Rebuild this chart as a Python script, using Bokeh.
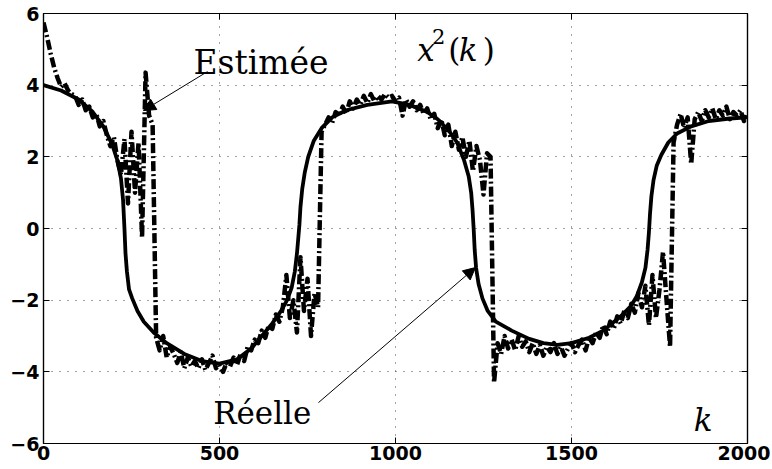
from bokeh.plotting import figure
from bokeh.models import Label, Arrow, NormalHead, LinearAxis, FixedTicker, Range1d, CustomJSTickFormatter, ColumnDataSource
from bokeh.embed import file_html
from bokeh.resources import INLINE

# ---- data ----
real_k = [0, 50, 100, 140, 170, 195, 210, 220, 226, 230, 233, 237, 243, 252, 267, 285, 313, 350, 400,
          450, 500, 550, 590, 620, 650, 675, 692, 705, 714, 720, 724, 727, 730, 735, 742, 752, 768,
          790, 820, 860, 920, 990, 1040, 1090, 1120, 1150, 1175, 1195, 1208, 1215, 1219, 1222, 1225,
          1229, 1236, 1247, 1262, 1285, 1330, 1380, 1420, 1460, 1500, 1550, 1590, 1640, 1670, 1685,
          1700, 1710, 1716, 1720, 1723, 1727, 1733, 1742, 1755, 1775, 1800, 1840, 1890, 1950, 2000]
real_x2 = [4.0, 3.85, 3.6, 3.25, 2.85, 2.35, 1.9, 1.4, 0.8, 0.0, -0.7, -1.2, -1.7, -1.95, -2.3, -2.6,
           -2.9, -3.2, -3.5, -3.7, -3.77, -3.65, -3.35, -3.0, -2.65, -2.3, -2.0, -1.65, -1.2, -0.7,
           -0.25, 0.1, 0.6, 1.1, 1.55, 2.0, 2.45, 2.8, 3.1, 3.3, 3.45, 3.55, 3.45, 3.25, 3.05, 2.75,
           2.4, 1.9, 1.45, 1.0, 0.5, 0.0, -0.6, -1.1, -1.55, -1.95, -2.3, -2.6, -2.85, -3.08, -3.2,
           -3.25, -3.2, -3.05, -2.85, -2.45, -2.15, -1.9, -1.5, -1.1, -0.6, -0.1, 0.4, 0.9, 1.35,
           1.75, 2.05, 2.4, 2.65, 2.85, 3.0, 3.07, 3.1]

est_k = list(range(0, 2001, 10))
est_x2 = [5.75, 5.35, 4.9, 4.5, 4.2, 3.95, 4.05, 3.85, 3.75, 3.7,
          3.45, 3.6, 3.3, 3.4, 3.1, 3.2, 2.85, 3.0, 2.6, 2.3,
          2.55, 1.9, 1.5, 2.5, 0.7, 2.7, 1.0, 2.4, -0.25, 4.35,
          3.15, 2.9, -3.05, -3.4, -3.0, -3.6, -3.3, -3.5, -3.75, -3.45,
          -3.9, -3.6, -3.85, -3.7, -3.9, -3.65, -3.95, -3.75, -3.55, -3.9,
          -3.8, -4.0, -3.75, -3.85, -3.6, -3.8, -3.5, -3.7, -3.3, -3.4,
          -3.1, -3.2, -2.85, -3.05, -2.7, -2.8, -2.4, -2.6, -2.2, -1.3,
          -2.5, -2.0, -2.9, -0.8, -2.3, -1.4, -3.0, -1.8, -2.2, 2.7,
          2.9, 3.1, 2.95, 3.25, 3.15, 3.4, 3.2, 3.55, 3.35, 3.6,
          3.45, 3.7, 3.5, 3.75, 3.55, 3.7, 3.6, 3.75, 3.65, 3.7,
          3.55, 3.65, 3.15, 3.6, 3.4, 3.55, 3.3, 3.45, 3.2, 3.35,
          3.05, 3.2, 2.8, 3.05, 2.6, 2.9, 2.3, 2.7, 2.2, 2.55,
          2.0, 2.45, 1.6, 2.3, 1.9, 0.95, 2.1, 2.0, -4.3, -3.2,
          -3.5, -3.0, -3.35, -3.1, -3.4, -3.0, -3.3, -3.15, -3.45, -3.2,
          -3.5, -3.25, -3.55, -3.3, -3.45, -3.2, -3.5, -3.3, -3.55, -3.35,
          -3.2, -3.45, -3.25, -3.1, -3.4, -3.05, -3.2, -2.9, -3.05, -2.7,
          -2.95, -2.6, -2.8, -2.45, -2.65, -2.3, -2.5, -2.1, -2.35, -1.8,
          -2.2, -1.6, -2.7, -1.3, -2.5, -1.7, -0.65, -2.0, -3.3, 2.4,
          2.9, 3.2, 2.8, 3.1, 1.8, 3.05, 3.25, 3.0, 3.3, 3.1,
          3.35, 3.05, 3.3, 3.15, 3.4, 3.05, 3.25, 3.15, 3.3, 3.0,
          3.2]

x_ticks = [0, 500, 1000, 1500, 2000]
y_ticks = [-6, -4, -2, 0, 2, 4, 6]

label_est = "Estimée"
label_real = "Réelle"
label_k = "k"

# ---- figure ----
p = figure(width=770, height=467, x_range=Range1d(0, 2000), y_range=Range1d(-6, 6),
           output_backend="svg", toolbar_location=None,
           min_border_left=43, min_border_right=23, min_border_top=13, min_border_bottom=24)
p.background_fill_color = "white"
p.border_fill_color = "white"
p.outline_line_color = "black"
p.outline_line_width = 1.2

tick_font = "DejaVu Sans"
for ax in (p.xaxis[0], p.yaxis[0]):
    ax.major_label_text_font = tick_font
    ax.major_label_text_font_style = "bold"
    ax.major_label_text_font_size = "19px"
    ax.major_label_text_color = "black"
    ax.major_tick_in = 6
    ax.major_tick_out = 0
    ax.minor_tick_in = 0
    ax.minor_tick_out = 0
    ax.axis_line_color = "black"
    ax.axis_line_width = 1.2
    ax.major_tick_line_color = "black"
p.xaxis.major_label_standoff = 2
p.yaxis.major_label_standoff = 4
p.xaxis.ticker = FixedTicker(ticks=x_ticks)
p.yaxis.ticker = FixedTicker(ticks=y_ticks)

for loc, ticks in (("above", x_ticks), ("right", y_ticks)):
    ax = LinearAxis(ticker=FixedTicker(ticks=ticks),
                    formatter=CustomJSTickFormatter(code="return ''"))
    ax.major_tick_in = 6
    ax.major_tick_out = 0
    ax.minor_tick_in = 0
    ax.minor_tick_out = 0
    ax.major_label_standoff = 0
    ax.major_label_text_font_size = "1px"
    ax.axis_line_color = "black"
    ax.axis_line_width = 1.2
    p.add_layout(ax, loc)

p.xgrid.ticker = FixedTicker(ticks=x_ticks[1:-1])
p.ygrid.ticker = FixedTicker(ticks=y_ticks[1:-1])
for g in (p.xgrid[0], p.ygrid[0]):
    g.grid_line_color = "#444444"
    g.grid_line_dash = "1 7"
    g.grid_line_width = 1

est_src = ColumnDataSource(dict(k=est_k, v=est_x2))
real_src = ColumnDataSource(dict(k=real_k, v=real_x2))
p.line("k", "v", source=est_src, line_color="black", line_width=4.5, line_dash="10 3 2 3",
       line_join="round")
p.line("k", "v", source=real_src, line_color="black", line_width=3.8, line_join="round")

serif = "DejaVu Serif"
def lab(x, y, text, size="31px", style="normal"):
    p.add_layout(Label(x=x, y=y, text=text, text_font=serif, text_font_size=size,
                       text_font_style=style, text_baseline="alphabetic", text_color="black"))

lab(426, 4.63, label_est, size="33px")
lab(482, -5.16, label_real, size="31px")
# x^2(k)
lab(1062, 4.97, "x", style="italic")
lab(1104, 5.36, "2", size="21px")
lab(1150, 4.97, "(")
lab(1180, 4.97, "k", style="italic")
lab(1248, 4.97, ")")
lab(1847, -5.35, label_k, style="italic")

p.add_layout(Arrow(x_start=466, y_start=4.38, x_end=284, y_end=3.29, line_width=1,
                   end=NormalHead(size=12, fill_color="black", line_color="black", line_width=1)))
p.add_layout(Arrow(x_start=781, y_start=-4.86, x_end=1227, y_end=-1.09, line_width=1,
                   end=NormalHead(size=12, fill_color="black", line_color="black", line_width=1)))

open("out.html", "w").write(file_html(p, INLINE))
